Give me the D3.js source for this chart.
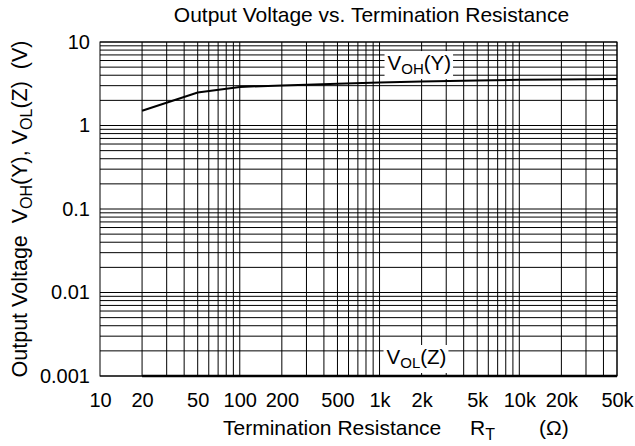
<!DOCTYPE html>
<html>
<head>
<meta charset="utf-8">
<script src="https://cdn.jsdelivr.net/npm/d3@7"></script>
<style>
  html, body { margin: 0; padding: 0; background: #fff; }
  svg { display: block; font-family: "Liberation Sans", Arial, sans-serif; }
</style>
</head>
<body>
<svg id="chart" width="635" height="446"></svg>
<script>
// Termination resistance (ohms) where the curves were read
const resistance = [20, 50, 100, 200, 300, 500, 1000, 2000, 5000, 10000, 20000, 50000];
// V_OH(Y) in volts
const vOH = [1.5, 2.48, 2.9, 3.02, 3.07, 3.16, 3.28, 3.37, 3.47, 3.53, 3.56, 3.6];
// V_OL(Z) in volts (sits on the floor of the chart)
const vOL = [0.001, 0.001, 0.001, 0.001, 0.001, 0.001, 0.001, 0.001, 0.001, 0.001, 0.001, 0.001];

const xTickValues = [10, 20, 50, 100, 200, 500, 1000, 2000, 5000, 10000, 20000, 50000];
const xTickLabels = ["10", "20", "50", "100", "200", "500", "1k", "2k", "5k", "10k", "20k", "50k"];
const yTickValues = [0.001, 0.01, 0.1, 1, 10];
const yTickLabels = ["0.001", "0.01", "0.1", "1", "10"];

const width = 635, height = 446;
const margin = { top: 42, right: 18, bottom: 70, left: 100 };

const svg = d3.select("#chart");

const x = d3.scaleLog()
  .domain([10, 50000])
  .range([margin.left, width - margin.right]);

const y = d3.scaleLog()
  .domain([0.001, 10])
  .range([height - margin.bottom, margin.top]);

// Grid - vertical lines start at 20 (nothing between 10 and 20)
const grid = svg.append("g").attr("class", "grid")
  .attr("stroke", "#000")
  .attr("stroke-width", 1);

grid.selectAll(".vline")
  .data(x.ticks().filter((d) => d >= 20))
  .enter()
  .append("line")
  .attr("class", "vline")
  .attr("x1", (d) => x(d))
  .attr("x2", (d) => x(d))
  .attr("y1", y(10))
  .attr("y2", y(0.001));

grid.selectAll(".hline")
  .data(y.ticks())
  .enter()
  .append("line")
  .attr("class", "hline")
  .attr("x1", x(10))
  .attr("x2", x(50000))
  .attr("y1", (d) => y(d))
  .attr("y2", (d) => y(d));

// Frame
svg.append("rect")
  .attr("x", x(10))
  .attr("y", y(10))
  .attr("width", x(50000) - x(10))
  .attr("height", y(0.001) - y(10))
  .attr("fill", "none")
  .attr("stroke", "#000")
  .attr("stroke-width", 1);

// Curves
const line = d3.line()
  .x((d) => x(d[0]))
  .y((d) => y(d[1]));

svg.append("path")
  .datum(resistance.map((r, i) => [r, vOH[i]]))
  .attr("fill", "none")
  .attr("stroke", "#000")
  .attr("stroke-width", 2)
  .attr("d", line);

svg.append("path")
  .datum(resistance.map((r, i) => [r, vOL[i]]))
  .attr("fill", "none")
  .attr("stroke", "#000")
  .attr("stroke-width", 2.5)
  .attr("d", line);

// Axes (labels only)
const xAxis = svg.append("g")
  .attr("transform", `translate(0,${height - margin.bottom})`)
  .call(d3.axisBottom(x)
    .tickValues(xTickValues)
    .tickFormat((d, i) => xTickLabels[i])
    .tickSize(0)
    .tickPadding(17));

const yAxis = svg.append("g")
  .attr("transform", `translate(${margin.left},0)`)
  .call(d3.axisLeft(y)
    .tickValues(yTickValues)
    .tickFormat((d, i) => yTickLabels[i])
    .tickSize(0)
    .tickPadding(10));

[xAxis, yAxis].forEach((g) => {
  g.select(".domain").remove();
  g.selectAll("text")
    .attr("fill", "#000")
    .attr("font-size", "20px")
    .attr("font-family", "Liberation Sans, Arial, sans-serif");
});

// Curve labels with white backgrounds
function curveLabel(xPos, yBase, sub, tail) {
  const g = svg.append("g");
  const bg = g.append("rect").attr("fill", "#fff");
  const t = g.append("text")
    .attr("x", xPos)
    .attr("y", yBase)
    .attr("font-size", "20.5px")
    .attr("fill", "#000");
  t.append("tspan").text("V");
  t.append("tspan").attr("font-size", "15px").attr("dy", 4).text(sub);
  t.append("tspan").attr("dy", -4).text(tail);
  const bb = t.node().getBBox();
  bg.attr("x", bb.x - 3).attr("y", bb.y)
    .attr("width", bb.width + 5).attr("height", bb.height + 2);
}
curveLabel(x(1000) + 8, y(3.6) - 9, "OH", "(Y)");
curveLabel(x(1000) + 7, y(0.001) - 12, "OL", "(Z)");

// Title
svg.append("text")
  .attr("x", 371.5)
  .attr("y", 22)
  .attr("text-anchor", "middle")
  .attr("font-size", "21px")
  .text("Output Voltage vs. Termination Resistance");

// X axis title
const xt = svg.append("text")
  .attr("y", 435)
  .attr("font-size", "21px");
xt.append("tspan").attr("x", 223).text("Termination Resistance");
xt.append("tspan").attr("x", 470).text("R");
xt.append("tspan").attr("font-size", "16px").attr("dy", 5).text("T");
xt.append("tspan").attr("x", 539).attr("dy", -5).text("(\u03A9)");

// Y axis title
const yt = svg.append("text")
  .attr("transform", `translate(27,${(y(10) + y(0.001)) / 2}) rotate(-90)`)
  .attr("text-anchor", "middle")
  .attr("font-size", "21.5px");
yt.append("tspan").text("Output Voltage\u00A0\u00A0V");
yt.append("tspan").attr("font-size", "16px").attr("dy", 5).text("OH");
yt.append("tspan").attr("dy", -5).text("(Y), V");
yt.append("tspan").attr("font-size", "16px").attr("dy", 5).text("OL");
yt.append("tspan").attr("dy", -5).text("(Z)\u00A0\u00A0(V)");
</script>
</body>
</html>
